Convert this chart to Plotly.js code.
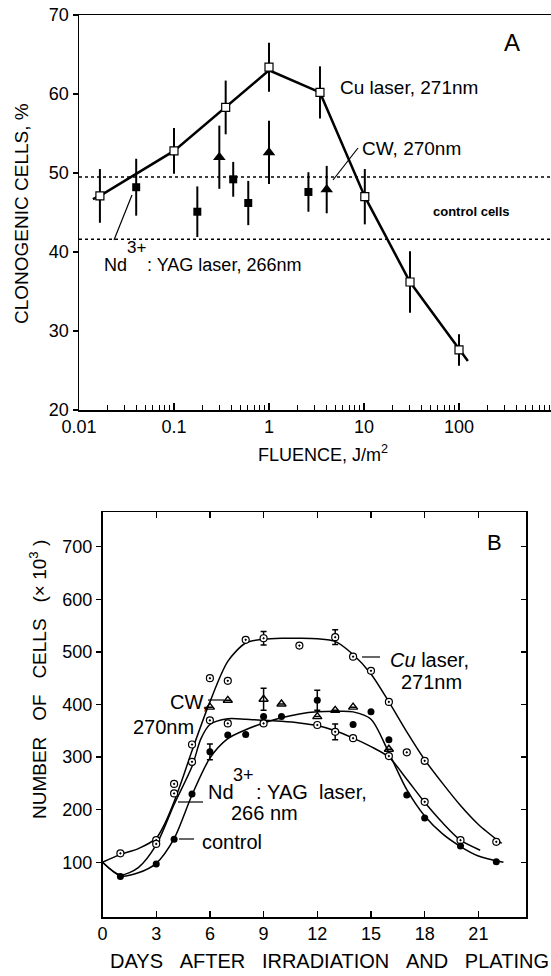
<!DOCTYPE html>
<html>
<head>
<meta charset="utf-8">
<script src="https://cdn.plot.ly/plotly-3.0.1.min.js"></script>
<style>html,body{margin:0;padding:0;background:#fff}#chart{width:551px;height:976px}</style>
</head>
<body>
<div id="chart"></div>
<script>
// ---------- Panel A data (fluence J/m^2 vs clonogenic cells %) ----------
const cuFluence = [0.0166, 0.1, 0.35, 1.0, 3.44, 10.2, 30.5, 100];
const cuClono   = [47.1, 52.8, 58.3, 63.4, 60.2, 47.0, 36.2, 27.6];
const cuErr     = [3.4, 2.9, 3.4, 3.1, 3.3, 3.5, 3.9, 2.0];
const cuFitFluence = [0.014, 0.0166, 0.1, 0.35, 1.0, 3.44, 10.2, 30.5, 100, 124];
const cuFitClono   = [46.7, 47.1, 52.8, 58.3, 63.0, 60.2, 47.0, 36.2, 27.6, 26.2];
const ndFluence = [0.04, 0.176, 0.42, 0.605, 2.6];
const ndClono   = [48.2, 45.1, 49.2, 46.2, 47.6];
const ndErr     = [3.6, 3.2, 2.2, 2.8, 2.5];
const cwFluence = [0.30, 1.0, 4.05];
const cwClono   = [52.0, 52.6, 47.9];
const cwErr     = [4.0, 4.0, 3.0];
const controlLevels = [41.6, 49.5];
const fluenceTicks = [0.01, 0.1, 1, 10, 100];
const fluenceTickText = ['0.01', '0.1', '1', '10', '100'];

// ---------- Panel B data (days vs number of cells x10^3) ----------
const cuDays  = [1, 3, 4, 5, 6, 7, 8, 9, 11, 13, 14, 15, 16, 17, 18, 22];
const cuCells = [117, 142, 249, 324, 450, 445, 523, 526, 512, 528, 491, 464, 405, 309, 293, 139];
const cuCellsErr = [null, null, null, null, null, null, null, 13, null, 14, null, null, null, null, null, null];
const cuFitDays  = [0, 1, 2, 3, 3.5, 4, 4.5, 5, 6, 7, 8, 9, 10, 11, 12, 13, 14, 15, 16, 17, 18, 19, 20, 21, 22.3];
const cuFitCells = [100, 115, 126, 146, 175, 215, 262, 312, 405, 482, 517, 524, 526, 526, 525, 520, 495, 458, 405, 348, 295, 250, 208, 172, 136];

const ndDays  = [3, 4, 5, 6, 7, 9, 12, 13, 14, 16, 18, 20];
const ndCells = [135, 231, 291, 370, 364, 364, 361, 348, 336, 302, 215, 142];
const ndCellsErr = [null, null, null, null, null, null, null, 15, null, null, null, null];
const ndFitDays  = [0, 1, 2, 3, 4, 5, 5.5, 6, 7, 8, 9, 10, 11, 12, 13, 14, 15, 16, 17, 18, 19, 20, 21.1];
const ndFitCells = [100, 76, 90, 133, 210, 282, 335, 362, 373, 372, 370, 368, 365, 360, 350, 336, 320, 300, 258, 214, 175, 142, 123];

const ctlDays  = [1, 3, 4, 5, 6, 7, 8, 9, 10, 12, 14, 15, 16, 17, 18, 20, 22];
const ctlCells = [73, 97, 144, 230, 310, 342, 343, 377, 377, 408, 362, 386, 333, 228, 184, 131, 101];
const ctlCellsErr = [null, null, null, null, 15, null, null, null, null, 19, null, null, null, null, null, null, null];
const ctlFitDays  = [0, 1, 2, 3, 4, 5, 6, 7, 8, 9, 10, 11, 12, 13, 14, 15, 16, 17, 18, 19, 20, 21, 22.4];
const ctlFitCells = [100, 74, 80, 98, 145, 228, 298, 335, 352, 365, 375, 382, 386, 387, 386, 372, 308, 238, 188, 154, 130, 112, 100];

const cwDays  = [6, 7, 9, 10, 12, 13, 14, 16];
const cwCells = [395, 408, 410, 401, 377, 389, 395, 315];
const cwCellsErr = [null, null, 21, null, null, null, null, null];

const dayTicks = [0, 3, 6, 9, 12, 15, 18, 21];
const cellTicks = [100, 200, 300, 400, 500, 600, 700];

// ---------- layout helpers (pixel -> paper) ----------
const W = 551, H = 976;
const PX = x => x / W;
const PY = y => 1 - y / H;
const FONT = 'Liberation Sans, Arial, Helvetica, sans-serif';
const K = 'black';

// minor log ticks 2..9 in every decade
const minorLogTicks = [];
[0.01, 0.1, 1, 10, 100].forEach(d => { for (let m = 2; m <= 9; m++) minorLogTicks.push(+(d * m).toPrecision(3)); });

const traces = [
  // Panel A
  {x: cuFitFluence, y: cuFitClono, xaxis: 'x', yaxis: 'y', mode: 'lines',
   line: {color: K, width: 2.5}, hoverinfo: 'skip'},
  {x: cuFluence, y: cuClono, xaxis: 'x', yaxis: 'y', mode: 'markers',
   marker: {symbol: 'square', size: 8, color: 'white', line: {color: K, width: 1.2}},
   error_y: {type: 'data', array: cuErr, color: K, thickness: 2, width: 0}},
  {x: ndFluence, y: ndClono, xaxis: 'x', yaxis: 'y', mode: 'markers',
   marker: {symbol: 'square', size: 8, color: K},
   error_y: {type: 'data', array: ndErr, color: K, thickness: 2, width: 0}},
  {x: cwFluence, y: cwClono, xaxis: 'x', yaxis: 'y', mode: 'markers',
   marker: {symbol: 'triangle-up', size: 11, color: K},
   error_y: {type: 'data', array: cwErr, color: K, thickness: 2, width: 0}},
  // Panel B curves
  {x: cuFitDays, y: cuFitCells, xaxis: 'x2', yaxis: 'y2', mode: 'lines',
   line: {color: K, width: 1.5, shape: 'spline', smoothing: 0.8}, hoverinfo: 'skip'},
  {x: ndFitDays, y: ndFitCells, xaxis: 'x2', yaxis: 'y2', mode: 'lines',
   line: {color: K, width: 1.5, shape: 'spline', smoothing: 0.8}, hoverinfo: 'skip'},
  {x: ctlFitDays, y: ctlFitCells, xaxis: 'x2', yaxis: 'y2', mode: 'lines',
   line: {color: K, width: 1.5, shape: 'spline', smoothing: 0.8}, hoverinfo: 'skip'},
  // Panel B markers
  {x: cuDays, y: cuCells, xaxis: 'x2', yaxis: 'y2', mode: 'markers',
   marker: {symbol: 'circle-dot', size: 7, color: 'white', line: {color: K, width: 1.2}},
   error_y: {type: 'data', array: cuCellsErr, color: K, thickness: 1.5, width: 3}},
  {x: ndDays, y: ndCells, xaxis: 'x2', yaxis: 'y2', mode: 'markers',
   marker: {symbol: 'circle-dot', size: 7, color: 'white', line: {color: K, width: 1.2}},
   error_y: {type: 'data', array: ndCellsErr, color: K, thickness: 1.5, width: 3}},
  {x: ctlDays, y: ctlCells, xaxis: 'x2', yaxis: 'y2', mode: 'markers',
   marker: {symbol: 'circle', size: 7, color: K},
   error_y: {type: 'data', array: ctlCellsErr, color: K, thickness: 1.5, width: 3}},
  {x: cwDays, y: cwCells, xaxis: 'x2', yaxis: 'y2', mode: 'markers',
   marker: {symbol: 'triangle-up-open', size: 8, color: K, line: {width: 1.4, color: K}},
   error_y: {type: 'data', array: cwCellsErr, color: K, thickness: 1.5, width: 3}}
];

const tickFont = {family: FONT, size: 18, color: K};

const shapes = [];
controlLevels.forEach(v => shapes.push({type: 'line', xref: 'x domain', yref: 'y', x0: 0, x1: 1, y0: v, y1: v,
  line: {color: K, width: 1.5, dash: 'dot'}}));
function seg(x0, y0, x1, y1, w) {
  shapes.push({type: 'line', xref: 'paper', yref: 'paper', x0: PX(x0), y0: PY(y0), x1: PX(x1), y1: PY(y1),
    line: {color: K, width: w || 1.2}});
}
seg(358, 148, 333, 180);   // CW leader (A)
seg(114, 240, 132, 195);   // Nd leader (A)
seg(362, 657, 380, 657);   // Cu leader (B)
seg(208, 700, 224, 700);   // CW leader (B)
seg(178, 802, 203, 802);   // Nd leader (B)
seg(179, 839, 194, 839);   // control leader (B)

function ann(text, x, y, size, opts) {
  return Object.assign({text: text, xref: 'paper', yref: 'paper', x: PX(x), y: PY(y),
    xanchor: 'left', yanchor: 'middle', showarrow: false,
    font: {family: FONT, size: size, color: K}}, opts || {});
}
const NB = '\u00A0';
const annotations = [
  ann('A', 512, 42, 24, {xanchor: 'center'}),
  ann('Cu laser, 271nm', 338, 87, 19),
  ann('CW, 270nm', 360, 148, 19),
  ann('control cells', 431, 212, 13, {font: {family: 'Liberation Sans Narrow, Liberation Sans, Arial', size: 13, color: K, weight: 'bold'}}),
  ann('Nd', 102, 265, 18),
  ann('3+', 125, 248, 17),
  ann(': YAG laser, 266nm', 145, 265, 18),
  ann('CLONOGENIC CELLS, %', 22, 214, 19, {xanchor: 'center', textangle: -90}),
  ann('FLUENCE, J/m<sup>2</sup>', 323, 453, 18, {xanchor: 'center'}),
  ann('B', 494, 542, 22, {xanchor: 'center'}),
  ann('<i>Cu</i> laser,', 388, 660, 20),
  ann('271nm', 399, 682, 20),
  ann('CW,', 168, 702, 20),
  ann('270nm', 131, 727, 20),
  ann('Nd', 206, 792, 20),
  ann('3+', 231, 775, 18),
  ann(':' + NB + 'YAG' + NB + NB + 'laser,', 254, 792, 20),
  ann('266 nm', 229, 813, 20),
  ann('control', 200, 842, 20),
  ann('NUMBER' + NB + NB + NB + 'OF' + NB + NB + NB + 'CELLS' + NB + NB + NB + '(× 10<sup>3</sup> )', 38, 680, 19, {xanchor: 'center', textangle: -90}),
  ann('DAYS' + NB + NB + NB + 'AFTER' + NB + NB + NB + 'IRRADIATION' + NB + NB + NB + 'AND' + NB + NB + NB + 'PLATING', 329, 961, 20, {xanchor: 'center'})
];

const logRange = [-2, Math.log10(930)];
const layout = {
  width: W, height: H,
  margin: {l: 0, r: 0, t: 0, b: 0, autoexpand: false},
  paper_bgcolor: 'white', plot_bgcolor: 'white',
  showlegend: false,
  font: {family: FONT, color: K},
  xaxis: {
    type: 'log', domain: [PX(79), 1], range: logRange, anchor: 'y',
    tickvals: fluenceTicks, ticktext: fluenceTickText, tickfont: tickFont,
    ticks: 'inside', ticklen: 7, tickwidth: 1.2, tickcolor: K,
    showline: true, linecolor: K, linewidth: 1.5, mirror: true,
    showgrid: false, zeroline: false, fixedrange: true
  },
  xaxis3: {
    type: 'log', domain: [PX(79), 1], range: logRange, anchor: 'y', overlaying: 'x', side: 'bottom',
    tickvals: minorLogTicks, showticklabels: false,
    ticks: 'inside', ticklen: 5, tickwidth: 1, tickcolor: K,
    showline: false, showgrid: false, zeroline: false, fixedrange: true
  },
  yaxis: {
    domain: [PY(410), PY(15)], range: [20, 70], anchor: 'x',
    tickvals: [20, 30, 40, 50, 60, 70], tickfont: tickFont,
    ticks: 'outside', ticklen: 5, tickwidth: 1.2, tickcolor: K,
    showline: true, linecolor: K, linewidth: 1.5,
    showgrid: false, zeroline: false, fixedrange: true
  },
  xaxis2: {
    domain: [PX(102.5), PX(526)], range: [0, 23.66], anchor: 'y2',
    tickvals: dayTicks, tickfont: tickFont,
    ticks: 'inside', ticklen: 6, tickwidth: 1.2, tickcolor: K,
    showline: true, linecolor: K, linewidth: 1.5, mirror: 'ticks',
    showgrid: false, zeroline: false, fixedrange: true
  },
  yaxis2: {
    domain: [PY(917), PY(512)], range: [-4, 766], anchor: 'x2',
    tickvals: cellTicks, tickfont: tickFont,
    ticks: 'outside', ticklen: 5, tickwidth: 1.2, tickcolor: K,
    showline: true, linecolor: K, linewidth: 1.5, mirror: true,
    showgrid: false, zeroline: false, fixedrange: true
  },
  yaxis3: {
    overlaying: 'y2', side: 'right', anchor: 'x2', range: [-4, 766],
    tickvals: cellTicks, showticklabels: false,
    ticks: 'inside', ticklen: 5, tickwidth: 1.2, tickcolor: K,
    showline: false, showgrid: false, zeroline: false, fixedrange: true
  },
  shapes: shapes,
  annotations: annotations
};

// placeholder traces so the overlay tick axes are drawn
traces.push({x: [null], y: [null], xaxis: 'x2', yaxis: 'y3', mode: 'markers', hoverinfo: 'skip'});
traces.push({x: [null], y: [null], xaxis: 'x3', yaxis: 'y', mode: 'markers', hoverinfo: 'skip'});

Plotly.newPlot('chart', traces, layout, {staticPlot: true, displayModeBar: false});
</script>
</body>
</html>
